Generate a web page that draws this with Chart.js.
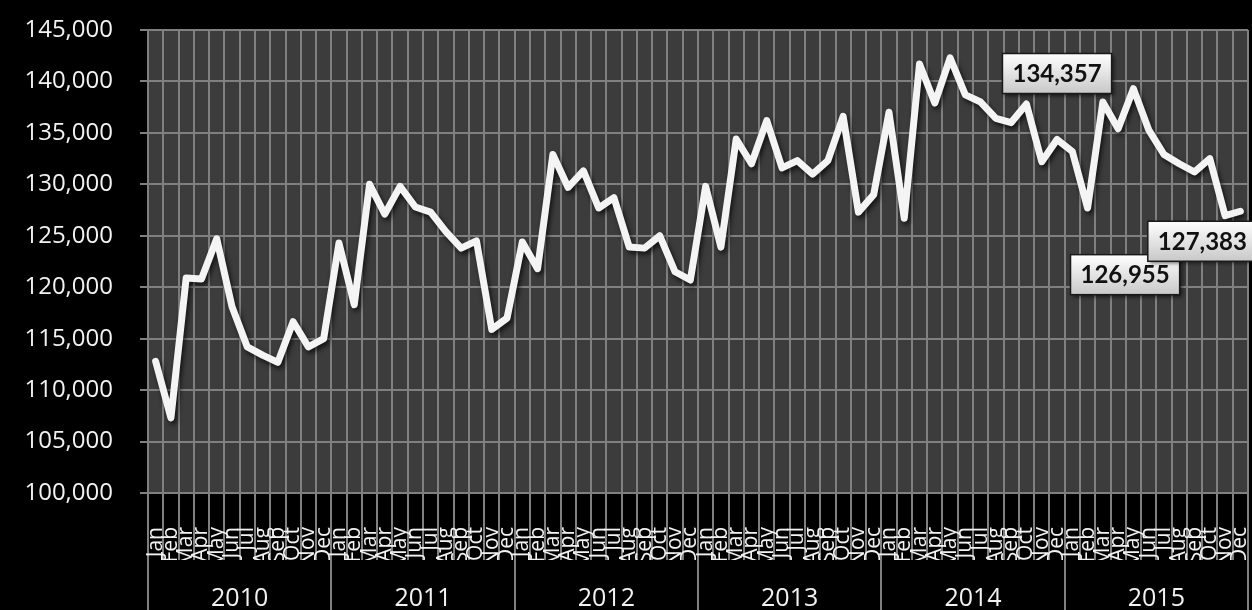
<!DOCTYPE html>
<html>
<head>
<meta charset="utf-8">
<script src="https://cdn.jsdelivr.net/npm/chart.js@4.4.1/dist/chart.umd.min.js"></script>
<style>
    html, body { margin: 0; padding: 0; background: #000; }
    #area { width: 1252px; height: 610px; position: relative; }
</style>
</head>
<body>
<div id="area"><canvas id="vendasChart"></canvas></div>
<script>
// nomes dos meses e anos do eixo X
const meses = ['Jan', 'Feb', 'Mar', 'Apr', 'May', 'Jun', 'Jul', 'Aug', 'Sep', 'Oct', 'Nov', 'Dec'];
const anos = ['2010', '2011', '2012', '2013', '2014', '2015'];

// valores mensais, um array por ano
const v2010 = [112800, 107300, 120900, 120800, 124700, 118100, 114200, 113400, 112700, 116650, 114200, 115000];
const v2011 = [124300, 118300, 130000, 127100, 129800, 127800, 127300, 125400, 123800, 124500, 115900, 117000];
const v2012 = [124400, 121800, 132900, 129700, 131300, 127700, 128700, 123900, 123800, 125000, 121500, 120700];
const v2013 = [129800, 123900, 134400, 132000, 136200, 131600, 132300, 131000, 132300, 136600, 127300, 129000];
const v2014 = [137000, 126700, 141700, 137900, 142300, 138700, 138000, 136400, 136000, 137800, 132200, 134357];
const v2015 = [133200, 127700, 138000, 135400, 139300, 135300, 132900, 132000, 131200, 132500, 126955, 127383];

// ticks do eixo Y
const yMin = 100000;
const yMax = 145000;
const yPasso = 5000;

// pontos com rotulo (indice na serie completa)
const pontosRotulados = [59, 70, 71];

const valores = [].concat(v2010, v2011, v2012, v2013, v2014, v2015);
const rotulosMes = [];
anos.forEach(() => meses.forEach(m => rotulosMes.push(m)));

const fonte = '"Open Sans", "DejaVu Sans", sans-serif';
const corGrade = '#808080';

// deslocamento de cada caixa em relacao ao ponto (so estilo)
const deslocRotulo = { 59: [0, -66], 70: [-100, 59], 71: [-38, 30] };

const fundoPlot = {
    id: 'fundoPlot',
    beforeDraw(chart) {
        const { ctx, chartArea: a } = chart;
        ctx.save();
        ctx.fillStyle = '#000';
        ctx.fillRect(0, 0, chart.width, chart.height);
        ctx.fillStyle = '#3c3c3c';
        ctx.fillRect(a.left, a.top, a.right - a.left, a.bottom - a.top);
        ctx.restore();
    }
};

// sombra da linha branca
const sombraLinha = {
    id: 'sombraLinha',
    beforeDatasetDraw(chart) {
        const ctx = chart.ctx;
        ctx.save();
        ctx.shadowColor = 'rgba(0,0,0,0.7)';
        ctx.shadowBlur = 5;
        ctx.shadowOffsetX = 2;
        ctx.shadowOffsetY = 3;
    },
    afterDatasetDraw(chart) {
        chart.ctx.restore();
    }
};

// caixas de rotulo estilo Excel
const caixasRotulo = {
    id: 'caixasRotulo',
    afterDatasetsDraw(chart) {
        const { ctx } = chart;
        const meta = chart.getDatasetMeta(0);
        ctx.save();
        ctx.font = 'bold 24px Lato, "Open Sans", sans-serif';
        ctx.textAlign = 'center';
        ctx.textBaseline = 'middle';
        pontosRotulados.forEach(i => {
            const p = meta.data[i];
            const txt = valores[i].toLocaleString('en-US');
            const w = ctx.measureText(txt).width + 20;
            const h = 40;
            const [dx, dy] = deslocRotulo[i];
            const cx = p.x + dx, cy = p.y + dy;
            const x0 = cx - w / 2, y0 = cy - h / 2;
            const grad = ctx.createLinearGradient(0, y0, 0, y0 + h);
            grad.addColorStop(0, '#ffffff');
            grad.addColorStop(1, '#c8c8c8');
            ctx.shadowColor = 'rgba(0,0,0,0.6)';
            ctx.shadowBlur = 4;
            ctx.shadowOffsetX = 2;
            ctx.shadowOffsetY = 2;
            ctx.fillStyle = grad;
            ctx.fillRect(x0, y0, w, h);
            ctx.shadowColor = 'transparent';
            ctx.lineWidth = 1.5;
            ctx.strokeStyle = '#1a1a1a';
            ctx.strokeRect(x0, y0, w, h);
            ctx.fillStyle = '#111';
            ctx.fillText(txt, cx, cy + 1);
        });
        ctx.restore();
    }
};

const vendasChart = new Chart(
    document.getElementById('vendasChart'),
    {
        type: 'line',
        data: {
            labels: rotulosMes,
            datasets: [{
                data: valores,
                borderColor: '#f4f4f4',
                borderWidth: 7,
                borderJoinStyle: 'round',
                borderCapStyle: 'round',
                pointRadius: 0,
                tension: 0,
                fill: false
            }]
        },
        options: {
            responsive: true,
            maintainAspectRatio: false,
            animation: false,
            layout: { padding: { top: 30, right: 4, left: 0, bottom: 0 } },
            plugins: {
                legend: { display: false },
                tooltip: { enabled: false }
            },
            scales: {
                y: {
                    min: yMin,
                    max: yMax,
                    ticks: {
                        stepSize: yPasso,
                        color: '#f2f2f2',
                        padding: 27,
                        font: { family: fonte, size: 24 },
                        callback: v => v.toLocaleString('en-US')
                    },
                    grid: { color: corGrade, lineWidth: 2, tickLength: 8 },
                    border: { color: corGrade, width: 2 },
                    afterFit: s => { s.width = 148; s.paddingTop = 10; s.paddingBottom = 10; }
                },
                x: {
                    type: 'category',
                    offset: true,
                    weight: 0,
                    grid: { offset: true, color: corGrade, lineWidth: 2, tickLength: 67 },
                    border: { color: corGrade, width: 2 },
                    ticks: {
                        autoSkip: false,
                        minRotation: 90,
                        maxRotation: 90,
                        padding: -33,
                        color: '#f2f2f2',
                        font: { family: fonte, size: 21 }
                    },
                    afterFit: s => { s.height = 67; }
                },
                anos: {
                    type: 'category',
                    labels: anos,
                    position: 'bottom',
                    offset: true,
                    weight: 1,
                    grid: { offset: true, drawOnChartArea: false, color: corGrade, lineWidth: 2, tickLength: 50 },
                    border: { display: false },
                    ticks: {
                        padding: -26,
                        color: '#f2f2f2',
                        font: { family: fonte, size: 25 }
                    },
                    afterFit: s => { s.height = 50; }
                }
            }
        },
        plugins: [fundoPlot, sombraLinha, caixasRotulo]
    }
);
</script>
</body>
</html>
